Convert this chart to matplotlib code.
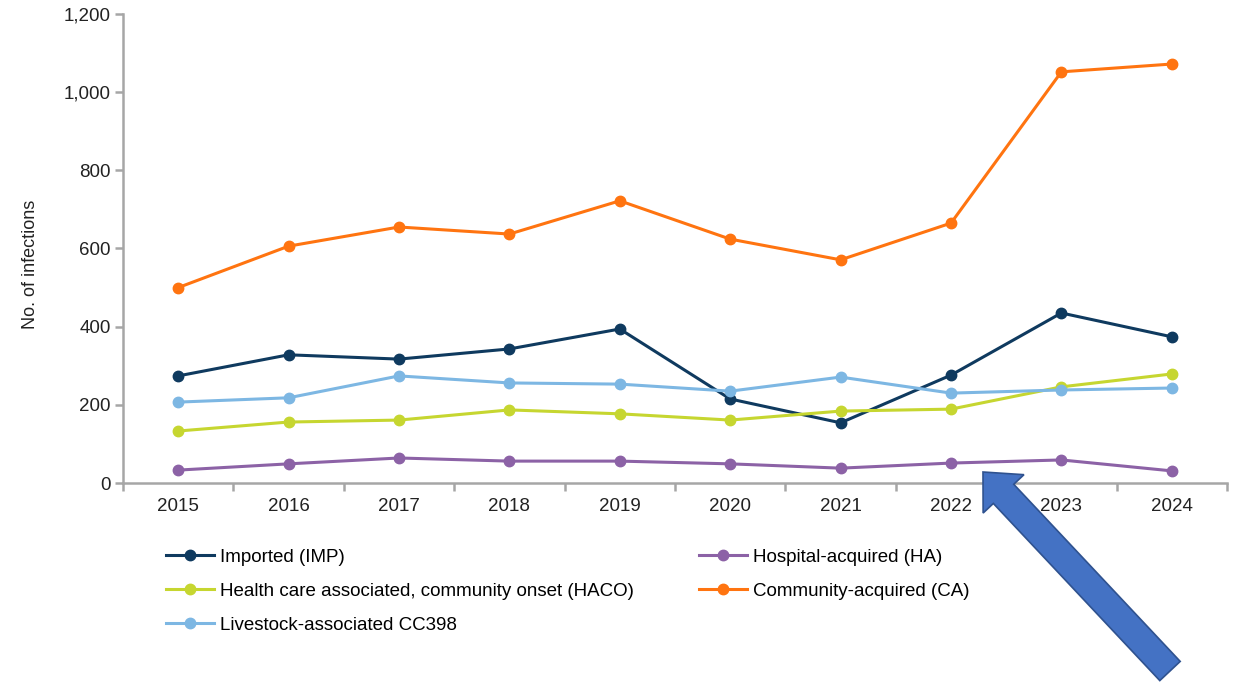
import matplotlib.pyplot as plt
from matplotlib.patches import Polygon
import numpy as np

plt.rcParams['font.family'] = ['Liberation Sans', 'DejaVu Sans']

# Annual number of infections by acquisition route
years = ['2015', '2016', '2017', '2018', '2019', '2020', '2021', '2022', '2023', '2024']
imported = [274, 328, 317, 343, 394, 215, 154, 276, 435, 374]
haco = [133, 156, 161, 187, 177, 161, 184, 189, 246, 279]
livestock = [207, 218, 274, 256, 253, 235, 271, 230, 238, 243]
hospital = [33, 49, 64, 56, 56, 49, 38, 51, 59, 31]
community = [500, 606, 655, 637, 722, 624, 571, 665, 1052, 1072]

series = [
    ('Imported (IMP)', imported, '#0F3A5F'),
    ('Health care associated, community onset (HACO)', haco, '#C6D630'),
    ('Livestock-associated CC398', livestock, '#7DB7E3'),
    ('Hospital-acquired (HA)', hospital, '#8C62A6'),
    ('Community-acquired (CA)', community, '#FF7410'),
]

W, H = 1243, 684
fig = plt.figure(figsize=(W / 100, H / 100), dpi=100)
ax = fig.add_axes([123 / W, 1 - 483 / H, (1227 - 123) / W, (483 - 14) / H])

x = np.arange(len(years))
for label, vals, color in series:
    ax.plot(x, vals, color=color, lw=2.2, marker='o', markersize=7.5, label=label)

ax.set_xlim(-0.5, len(years) - 0.5)
ax.set_ylim(0, 1200)
ax.set_yticks(range(0, 1201, 200))
ax.set_yticklabels([f'{v:,}' for v in range(0, 1201, 200)])
ax.set_xticks(x)
ax.set_xticklabels(years)
ax.set_xticks(np.arange(-0.5, len(years)), minor=True)
ax.tick_params(axis='x', which='major', length=0, pad=11, labelsize=13.5, colors='#222222')
ax.tick_params(axis='x', which='minor', length=6, width=1.8, color='#A6A6A6')
ax.tick_params(axis='y', length=6, width=1.8, color='#A6A6A6', labelsize=13.5,
               labelcolor='#222222', pad=3)
for side in ['top', 'right']:
    ax.spines[side].set_visible(False)
for side in ['left', 'bottom']:
    ax.spines[side].set_color('#A6A6A6')
    ax.spines[side].set_linewidth(1.8)
ax.set_ylabel('No. of infections', fontsize=13, color='#222222')
ax.yaxis.set_label_coords(-0.076, 0.467)

fig.legend(loc='upper left', bbox_to_anchor=(158 / W, 1 - 541 / H), ncol=2,
           frameon=False, fontsize=13.5, handlelength=2.56, handletextpad=0.32,
           labelspacing=0.91, columnspacing=3.5, borderaxespad=0)

# Block arrow pointing at 2022
tail = np.array([1170.0, 671.0])
tip = np.array([983.0, 472.0])
shaft_w, head_w, head_len = 28.0, 56.0, 30.0
d = (tip - tail) / np.linalg.norm(tip - tail)
n = np.array([-d[1], d[0]])
base = tip - d * head_len
pts = [tail + n * shaft_w / 2, base + n * shaft_w / 2, base + n * head_w / 2, tip,
       base - n * head_w / 2, base - n * shaft_w / 2, tail - n * shaft_w / 2]
pts = [(p[0] / W, 1 - p[1] / H) for p in pts]
fig.patches.append(Polygon(pts, closed=True, transform=fig.transFigure,
                           facecolor='#4472C4', edgecolor='#2F528F', lw=1.2))

fig.savefig('out.png', dpi=100)
